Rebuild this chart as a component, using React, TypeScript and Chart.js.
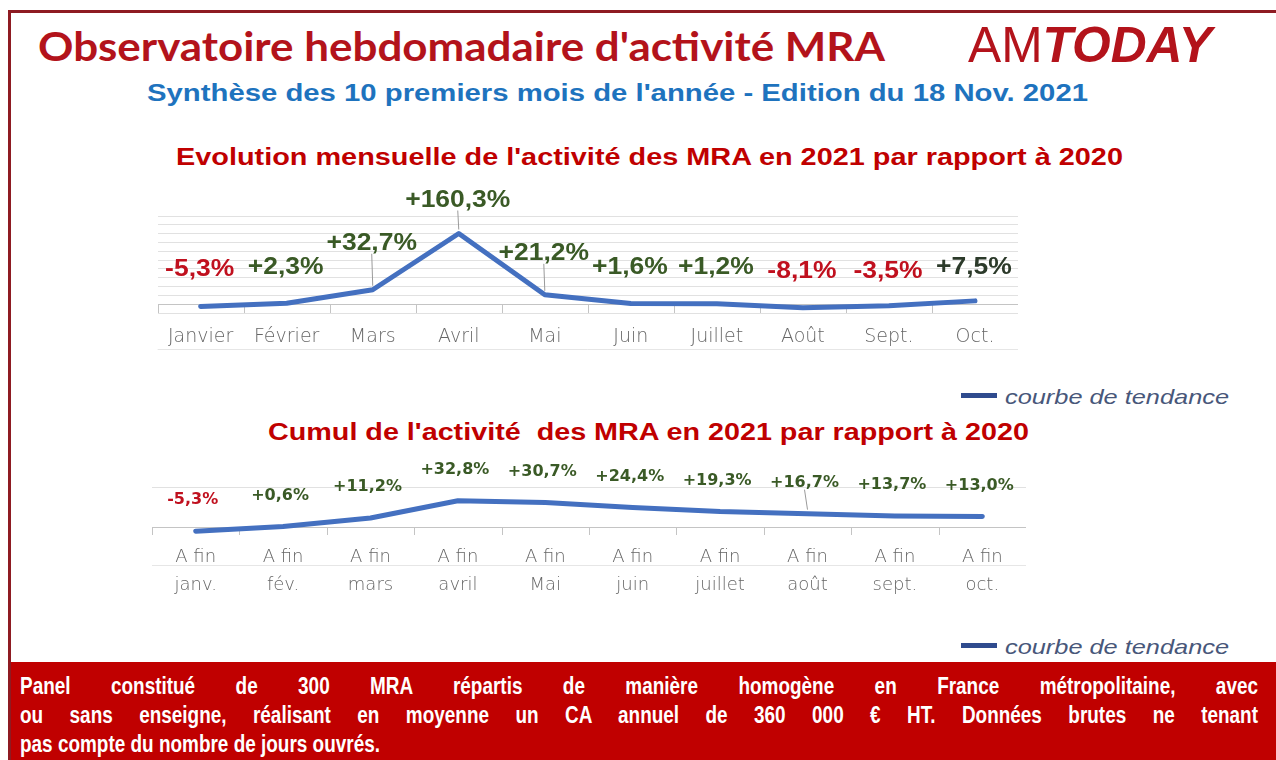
import React, { useEffect, useRef } from "react";
import { Chart, registerables } from "chart.js";

Chart.register(...registerables);

// ---------------- data ----------------
const monthLabels = ["Janvier", "Février", "Mars", "Avril", "Mai", "Juin", "Juillet", "Août", "Sept.", "Oct."];
const monthlyChange = [-5.3, 2.3, 32.7, 160.3, 21.2, 1.6, 1.2, -8.1, -3.5, 7.5];

const cumulPrefix = "A fin";
const cumulMonths = ["janv.", "fév.", "mars", "avril", "Mai", "juin", "juillet", "août", "sept.", "oct."];
const cumulChange = [-5.3, 0.6, 11.2, 32.8, 30.7, 24.4, 19.3, 16.7, 13.7, 13.0];

const monthlyAxis = { min: -20, max: 200, step: 20 };
const cumulAxis = { min: -10, max: 50, step: 10 };
const cumulGridValues = [0, 50];

const titleText = "Observatoire hebdomadaire d'activité MRA";
const subtitleText = "Synthèse des 10 premiers mois de l'année - Edition du 18 Nov. 2021";
const chart1Title = "Evolution mensuelle de l'activité des MRA en 2021 par rapport à 2020";
const chart2Title = "Cumul de l'activité  des MRA en 2021 par rapport à 2020";
const legendText = "courbe de tendance";
const footerLines = [
  "Panel constitué de 300 MRA répartis de manière homogène en France métropolitaine, avec",
  "ou sans  enseigne, réalisant en moyenne un CA annuel de 360 000 € HT. Données brutes ne tenant",
  "pas compte du nombre de jours ouvrés.",
];

// ---------------- style / layout ----------------
const LINE_BLUE = "#4470c0";
const POS_GREEN = "#3a5a26";
const NEG_RED = "#c0101e";
const GRID = "#e1e1e1";
const AXIS = "#c4c4c4";
const TICK_FONT = "DejaVu Sans";

const monthlyLift = [37, 36, 46, 33, 41, 36, 36, 36, 34, 33];
const monthlyLeaders = [false, false, true, true, true, false, false, false, false, false];
const cumulLift = [31, 31, 31, 31, 31, 31, 31, 31, 31, 31];
const cumulLeaders = [false, false, false, false, false, false, false, true, false, false];

const fmt = (v: number) => (v > 0 ? "+" : "") + v.toFixed(1).replace(".", ",") + "%";

let measureCtx: CanvasRenderingContext2D | null = null;
function measure(text: string, font: string) {
  if (!measureCtx) measureCtx = document.createElement("canvas").getContext("2d");
  measureCtx!.font = font;
  return measureCtx!.measureText(text).width;
}

function makeOverlay(cfg: any) {
  return {
    id: "overlay",
    beforeDatasetsDraw(chart: any) {
      const { ctx, chartArea } = chart;
      const x = chart.scales.x;
      const y = chart.scales.y;
      const y0 = y.getPixelForValue(0);
      const n = chart.data.labels.length;
      ctx.save();
      ctx.strokeStyle = AXIS;
      ctx.lineWidth = 1;
      ctx.beginPath();
      for (let i = 0; i <= n; i++) {
        const px = Math.round(x.getPixelForValue(i - 0.5)) + 0.5;
        ctx.moveTo(px, y0);
        ctx.lineTo(px, chartArea.bottom);
      }
      ctx.stroke();
      // faint separator line below the category labels
      if (cfg.underLine) {
        const yy = Math.round(chartArea.bottom + cfg.underLine) + 0.5;
        ctx.strokeStyle = "#e6e6e6";
        ctx.beginPath();
        ctx.moveTo(chartArea.left, yy);
        ctx.lineTo(chartArea.right, yy);
        ctx.stroke();
      }
      ctx.restore();
    },
    afterDatasetsDraw(chart: any) {
      const { ctx } = chart;
      const x = chart.scales.x;
      const y = chart.scales.y;
      const data = chart.data.datasets[0].data as number[];
      ctx.save();
      ctx.font = cfg.font;
      ctx.textAlign = "center";
      ctx.textBaseline = "middle";
      data.forEach((v, i) => {
        const px = x.getPixelForValue(i);
        const py = y.getPixelForValue(v);
        const lx = px + cfg.dx;
        const ly = py - cfg.lift[i];
        if (cfg.leaders[i]) {
          ctx.strokeStyle = "#9a9a9a";
          ctx.lineWidth = 1;
          ctx.beginPath();
          ctx.moveTo(lx, ly + cfg.halfH);
          ctx.lineTo(px, py - 4);
          ctx.stroke();
        }
        ctx.fillStyle = v < 0 ? NEG_RED : cfg.greens ? cfg.greens[i] || POS_GREEN : POS_GREEN;
        ctx.save();
        ctx.translate(lx, ly);
        ctx.scale(cfg.sx, 1);
        ctx.fillText(fmt(v), 0, 0);
        ctx.restore();
      });
      ctx.restore();
    },
  };
}

function makeConfig(labels: any[], values: number[], axis: any, gridShown: (v: number) => boolean, tickOpts: any, overlay: any): any {
  return {
    type: "line",
    data: {
      labels,
      datasets: [
        {
          data: values,
          borderColor: LINE_BLUE,
          borderWidth: 5,
          pointRadius: 0,
          tension: 0,
          borderCapStyle: "round",
          borderJoinStyle: "round",
          clip: false,
        },
      ],
    },
    options: {
      animation: false,
      responsive: false,
      events: [],
      layout: { padding: { top: 30, left: 0, right: 0, bottom: 0 } },
      plugins: { legend: { display: false }, tooltip: { enabled: false }, title: { display: false } },
      scales: {
        x: {
          offset: true,
          grid: { display: false, drawTicks: false },
          border: { display: false },
          afterFit: (scale: any) => {
            scale.height = tickOpts.axisHeight;
          },
          ticks: {
            padding: tickOpts.padding,
            color: "#666666",
            autoSkip: false,
            maxRotation: 0,
            font: { family: TICK_FONT, size: tickOpts.size, weight: 200, lineHeight: tickOpts.lineHeight },
          },
        },
        y: {
          min: axis.min,
          max: axis.max,
          border: { display: false },
          ticks: { display: false, stepSize: axis.step },
          grid: {
            drawTicks: false,
            lineWidth: 1,
            color: (c: any) => {
              const v = c.tick ? c.tick.value : NaN;
              if (v === 0) return AXIS;
              return gridShown(v) ? GRID : "rgba(0,0,0,0)";
            },
          },
        },
      },
    },
    plugins: [makeOverlay(overlay)],
  };
}

function FitText(props: { text: string; x: number; cy: number; w: number; size: number; family: string; weight?: string; italic?: boolean; color: string }) {
  const font = `${props.italic ? "italic " : ""}${props.weight || "normal"} ${props.size}px ${props.family}`;
  const sx = props.w / measure(props.text, font);
  return (
    <div
      style={{
        position: "absolute",
        left: props.x,
        top: props.cy - props.size / 2,
        height: props.size,
        lineHeight: props.size + "px",
        whiteSpace: "pre",
        font,
        color: props.color,
        transform: `scaleX(${sx})`,
        transformOrigin: "0 50%",
      }}
    >
      {props.text}
    </div>
  );
}

function Legend({ cy }: { cy: number }) {
  return (
    <>
      <div style={{ position: "absolute", left: 961, top: cy - 2, width: 36, height: 5, background: "#2f4b8e" }} />
      <FitText text={legendText} x={1005} cy={cy} w={224} size={21} family="'Liberation Sans', Arial" italic color="#48577a" />
    </>
  );
}

export default function App() {
  const c1 = useRef<HTMLCanvasElement>(null);
  const c2 = useRef<HTMLCanvasElement>(null);

  useEffect(() => {
    const ch1 = new Chart(
      c1.current!,
      makeConfig(
        monthLabels,
        monthlyChange,
        monthlyAxis,
        (v) => v !== 0,
        { padding: 13, size: 19, lineHeight: 1.2, axisHeight: 40 },
        {
          font: "bold 23px 'Liberation Sans', Arial",
          sx: 1.15,
          dx: -1,
          lift: monthlyLift,
          leaders: monthlyLeaders,
          halfH: 10,
          underLine: 36,
          greens: [POS_GREEN, POS_GREEN, POS_GREEN, POS_GREEN, POS_GREEN, POS_GREEN, POS_GREEN, POS_GREEN, POS_GREEN, "#2c3a2a"],
        }
      )
    );
    const ch2 = new Chart(
      c2.current!,
      makeConfig(
        cumulMonths.map((m) => [cumulPrefix, m]),
        cumulChange,
        cumulAxis,
        (v) => cumulGridValues.includes(v),
        { padding: 8, size: 18, lineHeight: "28px", axisHeight: 60 },
        {
          font: "bold 16px 'DejaVu Sans'",
          sx: 1.0,
          dx: -3,
          lift: cumulLift,
          leaders: cumulLeaders,
          halfH: 7,
          underLine: 30,
        }
      )
    );
    return () => {
      ch1.destroy();
      ch2.destroy();
    };
  }, []);

  const footerFont = "bold 23px 'Liberation Sans', Arial";
  const sxF = 360 / measure(footerLines[2], footerFont);
  const amFont = "normal 50px 'Liberation Sans', Arial";
  const todayFont = "italic bold 50px 'Liberation Sans', Arial";
  const amW = measure("AM", amFont);
  const todayW = measure("TODAY", todayFont);
  const sxA = 244 / (amW + todayW);

  return (
    <div style={{ position: "fixed", left: 0, top: 0, width: 1276, height: 760, background: "#fff", overflow: "hidden" }}>
      {/* frame */}
      <div style={{ position: "absolute", left: 8, top: 10, right: -10, bottom: -10, borderLeft: "3px solid #8e1b22", borderTop: "3px solid #8e1b22" }} />

      <FitText text={titleText} x={38} cy={41} w={847} size={41} family="Lato" weight="bold" color="#b3131b" />
      <div
        style={{
          position: "absolute",
          left: 968,
          top: 41 - 25,
          height: 50,
          lineHeight: "50px",
          whiteSpace: "pre",
          color: "#b3131b",
          transform: `scaleX(${sxA})`,
          transformOrigin: "0 50%",
        }}
      >
        <span style={{ font: amFont }}>AM</span>
        <span style={{ font: todayFont }}>TODAY</span>
      </div>
      <FitText text={subtitleText} x={147} cy={91} w={941} size={23} family="'Liberation Sans', Arial" weight="bold" color="#1e73be" />

      <FitText text={chart1Title} x={176} cy={155} w={948} size={23} family="'Liberation Sans', Arial" weight="bold" color="#c00000" />
      <canvas ref={c1} width={863} height={167} style={{ position: "absolute", left: 155, top: 186, display: "block" }} />
      <Legend cy={395} />

      <FitText text={chart2Title} x={268} cy={430} w={762} size={23} family="'Liberation Sans', Arial" weight="bold" color="#c00000" />
      <canvas ref={c2} width={874} height={138} style={{ position: "absolute", left: 152, top: 457, display: "block" }} />
      <Legend cy={645} />

      {/* footer */}
      <div style={{ position: "absolute", left: 11, top: 662, right: 0, bottom: 0, background: "#c00000" }} />
      {footerLines.map((t, i) => (
        <div
          key={i}
          style={{
            position: "absolute",
            left: 20,
            top: [686, 715, 744][i] - 13,
            width: i < 2 ? 1238 / sxF : undefined,
            height: 26,
            lineHeight: "26px",
            font: footerFont,
            color: "#ffffff",
            whiteSpace: i < 2 ? "normal" : "pre",
            textAlign: "justify",
            textAlignLast: i < 2 ? "justify" : "left",
            transform: `scaleX(${sxF})`,
            transformOrigin: "0 50%",
          }}
        >
          {t}
        </div>
      ))}
    </div>
  );
}
